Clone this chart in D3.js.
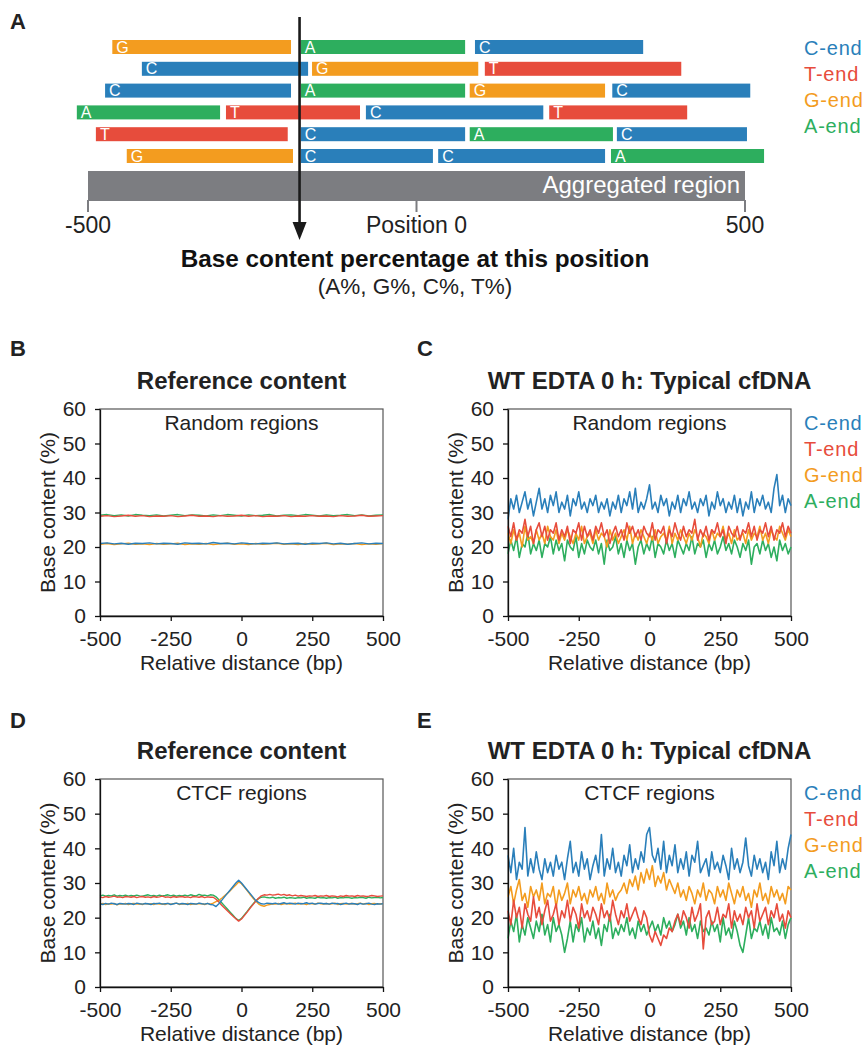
<!DOCTYPE html>
<html>
<head>
<meta charset="utf-8">
<script src="https://cdn.jsdelivr.net/npm/d3@7"></script>
<style>
body { margin: 0; background: #fff; }
text { font-family: Arial, "Liberation Sans", Helvetica, sans-serif; }
</style>
</head>
<body>
<div id="fig"></div>
<script>
//DATA
// panel A: read fragments, in bp relative to position 0
const FRAG_ROW   = [0,0,0, 1,1,1, 2,2,2,2, 3,3,3,3, 4,4,4,4, 5,5,5,5];
const FRAG_BASE  = ['G','A','C', 'C','G','T', 'C','A','G','C', 'A','T','C','T', 'T','C','A','C', 'G','C','C','A'];
const FRAG_START = [-463,-176,89, -418,-159,104, -474,-176,81,298, -517,-290,-77,202, -488,-176,81,305, -441,-176,33,296];
const FRAG_END   = [-191,74,345, -165,94,403, -191,74,287,508, -299,-86,193,412, -196,74,299,503, -188,25,287,529];
const AGG_TICKS  = [-500, 0, 500];
const AGG_LABELS = ['-500', 'Position 0', '500'];
const ARROW_POS  = -178;

const BASES  = ['C', 'T', 'G', 'A'];
const LEGEND = ['C-end', 'T-end', 'G-end', 'A-end'];
const X_TICKS = [-500, -250, 0, 250, 500];
const Y_TICKS = [0, 10, 20, 30, 40, 50, 60];

// positions of the sampled points
const POS25 = d3.range(-500, 501, 25);
const POS10 = d3.range(-500, 501, 10);

// panel B: reference content, random regions
const B_A = [29.2,29.4,29.1,29.3,29.0,29.4,29.2,29.1,29.3,29.0,29.2,29.4,29.1,29.3,29.2,29.0,29.3,29.1,29.4,29.2,29.0,29.3,29.1,29.2,29.4,29.0,29.2,29.3,29.1,29.4,29.2,29.0,29.3,29.1,29.2,29.4,29.1,29.3,29.0,29.2,29.3];
const B_T = [28.9,29.1,28.8,29.0,29.2,28.9,29.1,28.8,29.0,28.9,29.1,28.8,29.0,29.2,28.9,29.0,28.8,29.1,28.9,29.0,29.2,28.9,29.1,28.8,29.0,28.9,29.1,28.8,29.0,28.9,29.1,28.9,29.0,28.8,29.1,28.9,29.0,29.2,28.9,29.0,29.1];
const B_C = [21.0,21.2,20.9,21.1,20.8,21.1,21.0,21.2,20.9,21.1,21.0,20.8,21.2,21.0,21.1,20.9,21.3,21.0,21.1,20.9,21.2,21.0,20.9,21.1,21.0,21.2,20.9,21.0,21.1,20.8,21.1,21.0,21.2,20.9,21.1,20.8,21.0,21.2,20.9,21.1,21.0];
const B_G = [20.8,21.0,20.7,20.9,21.1,20.8,20.9,20.7,21.0,20.8,20.9,21.1,20.7,20.9,20.8,21.0,20.7,20.9,21.1,20.8,20.9,20.7,21.0,20.8,20.9,21.1,20.8,20.9,20.7,21.0,20.8,20.9,21.1,20.7,20.9,20.8,21.0,20.7,20.9,20.8,21.0];

// panel C: cfDNA, random regions
const C_C = [28,34,31,35,30,33,36,31,34,29, 33,37,31,34,30,35,32,36,30,33, 31,35,29,34,32,36,31,33,30,34, 32,35,30,33,31,34,29,33,31,35,
             30,34,32,36,31,37,30,33,31,34, 38,31,33,30,35,32,34,29,33,31, 35,30,34,32,36,31,33,30,34,32, 35,29,33,31,36,32,34,30,33,31,
             35,30,34,29,33,31,36,30,34,32, 35,31,33,30,37,41,32,35,30,34, 32];
const C_T = [26,23,27,22,25,24,28,23,26,21, 25,27,23,26,22,25,24,27,22,25, 23,26,21,25,24,27,22,26,23,25, 22,26,24,27,23,25,21,24,26,23,
             25,22,27,24,26,23,25,22,26,24, 23,27,22,25,24,26,21,25,23,27, 24,22,26,23,25,24,28,22,25,23, 26,22,25,24,27,23,25,21,26,24,
             23,26,22,25,24,27,23,26,22,25, 24,27,23,26,22,25,24,27,23,26, 24];
const C_G = [24,21,25,22,24,20,26,22,23,21, 25,22,24,21,26,23,22,25,21,24, 22,25,23,21,24,22,26,21,23,24, 21,25,22,24,23,20,25,22,24,21,
             23,25,22,26,21,24,22,25,23,21, 24,22,25,21,23,24,22,26,21,24, 22,25,23,21,24,22,25,23,20,24, 23,21,25,22,24,23,26,22,24,21,
             25,22,23,24,21,25,22,24,23,26, 22,24,21,25,23,22,26,24,22,25, 23];
const C_A = [18,22,19,23,17,21,20,24,18,21, 19,22,17,21,20,23,18,22,19,21, 16,22,20,19,23,17,21,18,22,20, 19,22,18,21,15,22,19,20,23,18,
             21,17,22,19,21,15,20,22,18,21, 19,23,17,21,20,18,22,19,21,17, 22,20,18,21,19,23,18,21,20,22, 17,21,19,22,18,20,23,19,21,18,
             22,20,17,21,19,22,15,20,21,18, 22,19,21,17,20,16,22,19,21,18, 20];

// panel D: reference content, CTCF regions
const D_A = [26.3,26.5,26.2,26.4,26.3,26.6,26.2,26.4,26.3,26.5, 26.2,26.4,26.3,26.5,26.3,26.2,26.4,26.6,26.3,26.4, 26.2,26.5,26.3,26.4,26.6,26.3,26.5,26.2,26.4,26.3, 26.5,26.3,26.6,26.4,26.3,26.7,26.4,26.5,26.3,26.6,
             26.5,26.0,25.2,24.3,23.4,22.5,21.6,20.7,19.8,19.2, 19.8,20.8,21.8,22.9,23.9,24.8,25.5,25.9,26.0,25.8, 25.7,25.9,25.6,25.8,25.7,25.9,25.6,25.8,25.7,25.6, 25.8,25.7,25.9,25.6,25.8,25.7,25.6,25.9,25.7,25.8,
             25.6,25.8,25.7,25.9,25.6,25.8,25.7,25.9,25.8,25.6, 25.8,25.7,25.9,25.8,25.6,25.9,25.7,25.8,25.9,25.7, 25.8];
const D_T = [26.0,25.8,26.1,25.9,26.0,26.2,25.9,26.0,25.8,26.1, 26.0,25.9,26.1,25.8,26.0,26.1,25.9,26.0,25.8,26.1, 25.9,26.0,26.2,25.9,26.0,25.8,26.1,25.9,26.0,26.1, 25.9,26.0,25.8,26.1,26.0,25.9,26.1,25.8,26.0,25.9,
             25.9,25.3,24.5,23.6,22.8,22.0,21.2,20.4,19.7,19.0, 19.6,20.6,21.6,22.7,23.7,24.7,25.6,26.3,26.6,26.5, 26.7,26.5,26.6,26.8,26.5,26.7,26.4,26.6,26.3,26.5, 26.2,26.4,26.3,26.1,26.3,26.2,26.4,26.1,26.3,26.2,
             26.4,26.1,26.3,26.2,26.0,26.3,26.1,26.4,26.2,26.3, 26.1,26.4,26.2,26.3,26.1,26.2,26.4,26.3,26.1,26.2, 26.3];
const D_C = [24.0,23.8,24.1,23.9,24.2,24.0,23.8,24.1,24.0,23.9, 24.1,24.0,23.8,24.2,24.0,23.9,24.1,24.0,23.8,24.1, 24.0,24.2,23.9,24.0,24.1,23.8,24.0,24.2,23.9,24.1, 24.0,23.8,24.1,24.0,23.9,24.2,24.0,23.9,24.1,23.8,
             23.7,23.2,24.0,25.0,26.0,27.0,28.0,29.0,30.0,30.8, 30.0,29.0,28.0,27.0,26.0,25.0,24.4,24.0,23.9,24.2, 24.1,24.0,24.2,23.9,24.1,24.3,24.0,24.2,24.1,23.9, 24.2,24.0,24.1,24.3,24.0,24.2,23.9,24.1,24.2,24.0,
             24.1,23.9,24.2,24.0,24.1,23.8,24.0,24.2,23.9,24.1, 24.0,23.8,24.1,23.9,24.0,24.2,23.9,23.8,24.0,23.9, 24.0];
const D_G = [23.9,24.1,23.8,24.0,23.9,24.1,23.7,24.0,23.9,24.1, 23.8,24.0,24.1,23.9,24.0,23.8,24.1,23.9,24.0,23.8, 24.1,23.9,24.0,23.8,24.1,23.9,24.0,24.2,23.8,24.0, 23.9,24.1,23.8,24.0,23.9,24.1,24.0,23.8,24.1,23.9,
             24.2,24.6,25.0,25.6,26.3,27.0,27.8,28.6,29.4,30.3, 29.8,28.8,27.8,26.7,25.7,24.8,24.0,23.5,23.3,23.6, 23.8,24.0,23.9,24.1,23.8,24.0,24.1,23.9,24.0,24.2, 23.9,24.1,24.0,23.8,24.1,24.0,23.9,24.2,24.0,23.9,
             24.1,23.9,24.0,24.2,23.8,24.0,24.1,23.9,24.0,24.1, 23.9,24.0,24.2,23.9,24.1,23.8,24.0,24.1,23.9,24.0, 24.0];

// panel E: cfDNA, CTCF regions
const E_C = [38,33,40,31,36,34,46,32,37,33, 39,34,31,37,33,36,32,38,34,36, 31,37,42,33,36,32,39,34,37,31, 35,38,33,44,32,37,34,40,33,36,
             32,38,35,41,33,37,34,39,36,44, 46,38,36,40,34,42,33,38,35,41, 33,37,34,39,32,38,36,42,33,35, 37,32,39,34,36,33,38,35,31,40,
             34,37,33,36,43,35,32,38,34,37, 33,36,31,39,35,42,33,37,34,40, 44];
const E_G = [26,29,24,28,31,25,27,23,29,26, 28,25,30,24,27,26,29,23,28,25, 27,30,24,28,26,29,25,27,24,28, 26,29,25,27,24,30,26,28,25,27,
             28,30,27,31,29,32,28,33,30,34, 31,35,29,32,30,33,28,31,29,27, 30,26,28,25,29,27,24,28,26,30, 25,28,27,24,29,26,28,25,30,27,
             24,28,26,29,25,27,23,28,26,30, 25,27,24,29,26,28,25,27,24,29, 28];
const E_T = [22,18,25,20,23,17,24,21,19,26, 20,23,18,22,25,19,21,24,18,22, 20,25,19,23,21,17,24,20,22,19, 23,21,18,24,20,22,19,25,21,18,
             22,20,24,19,21,23,20,18,22,20, 15,13,16,14,12,15,14,17,16,19, 21,18,22,20,17,23,19,21,24,11, 20,22,18,19,23,18,21,20,24,17,
             22,19,21,18,23,20,22,17,24,19, 21,23,18,22,20,24,19,21,17,22, 20];
const E_A = [14,19,16,21,13,18,15,20,17,14, 19,16,21,15,18,13,20,16,18,15, 10,14,19,13,18,16,20,13,17,15, 19,14,17,12,18,16,21,14,17,15,
             18,16,20,15,17,14,19,16,18,15, 17,19,16,18,15,20,17,19,16,18, 21,17,19,15,20,16,18,14,19,16, 17,15,19,16,18,13,20,15,17,14,
             19,16,12,10,15,20,14,17,16,19, 15,18,14,20,16,17,15,19,14,18, 20];

//SETUP
const WIDTH = 867, HEIGHT = 1047;
const COLORS = { C: '#2a7fba', T: '#e74c3c', G: '#f39c1f', A: '#2dae5e' };
const DRAW_ORDER = ['A', 'G', 'T', 'C'];

const svg = d3.select('#fig').append('svg')
  .attr('width', WIDTH)
  .attr('height', HEIGHT);

function panelLetter(txt, x, y) {
  svg.append('text').text(txt)
    .attr('x', x).attr('y', y)
    .attr('font-size', 22).attr('font-weight', 'bold').attr('fill', '#222');
}

function drawLegend(x, y0) {
  svg.append('g').selectAll('text').data(LEGEND)
    .join('text')
    .text(d => d)
    .attr('x', x)
    .attr('y', (d, i) => y0 + i * 26)
    .attr('font-size', 20)
    .attr('letter-spacing', 0.8)
    .attr('fill', (d, i) => COLORS[BASES[i]]);
}

//PANEL A
function drawPanelA() {
  const xA = d3.scaleLinear().domain([-500, 500]).range([88, 745]);
  const ROW = { TOP: 40, STEP: 21.8, H: 14 };
  const frags = FRAG_ROW.map((r, i) => ({ row: r, base: FRAG_BASE[i], s: FRAG_START[i], e: FRAG_END[i] }));
  const g = svg.append('g');

  const fg = g.selectAll('.frag').data(frags).join('g').attr('class', 'frag')
    .attr('transform', d => `translate(${xA(d.s)}, ${ROW.TOP + d.row * ROW.STEP})`);
  fg.append('rect')
    .attr('width', d => xA(d.e) - xA(d.s))
    .attr('height', ROW.H)
    .attr('fill', d => COLORS[d.base]);
  fg.append('text').text(d => d.base)
    .attr('x', 4).attr('y', ROW.H - 1.5)
    .attr('font-size', 16).attr('fill', '#fff');

  // aggregated region bar
  g.append('rect')
    .attr('x', xA(-500)).attr('y', 171)
    .attr('width', xA(500) - xA(-500)).attr('height', 30)
    .attr('fill', '#7c7d81');
  g.append('text').text('Aggregated region')
    .attr('x', xA(500) - 5).attr('y', 193)
    .attr('text-anchor', 'end').attr('font-size', 24).attr('fill', '#fff');
  g.selectAll('.aggtick').data(AGG_TICKS).join('line').attr('class', 'aggtick')
    .attr('x1', d => xA(d)).attr('x2', d => xA(d))
    .attr('y1', 200).attr('y2', 212)
    .attr('stroke', '#7c7d81').attr('stroke-width', 2);
  g.selectAll('.agglab').data(AGG_TICKS).join('text').attr('class', 'agglab')
    .text((d, i) => AGG_LABELS[i])
    .attr('x', d => xA(d)).attr('y', 233)
    .attr('text-anchor', 'middle').attr('font-size', 23).attr('fill', '#222');

  // arrow
  const ax = xA(ARROW_POS);
  g.append('line')
    .attr('x1', ax).attr('x2', ax).attr('y1', 17).attr('y2', 228)
    .attr('stroke', '#1a1a1a').attr('stroke-width', 2.6);
  g.append('polygon')
    .attr('points', [[ax - 7, 222], [ax + 7, 222], [ax, 240]].join(' '))
    .attr('fill', '#1a1a1a');

  g.append('text').text('Base content percentage at this position')
    .attr('x', 415).attr('y', 267)
    .attr('text-anchor', 'middle').attr('font-size', 24.3).attr('font-weight', 'bold').attr('fill', '#111');
  g.append('text').text('(A%, G%, C%, T%)')
    .attr('x', 415).attr('y', 294)
    .attr('text-anchor', 'middle').attr('font-size', 22.5).attr('fill', '#222');
}

//LINE PANELS
function drawPanel(p) {
  const x = d3.scaleLinear().domain([-500, 500]).range([p.x0, p.x1]);
  const y = d3.scaleLinear().domain([0, 60]).range([p.y1, p.y0]);
  const g = svg.append('g');

  g.append('rect')
    .attr('x', p.x0).attr('y', p.y0)
    .attr('width', p.x1 - p.x0).attr('height', p.y1 - p.y0)
    .attr('fill', 'none').attr('stroke', '#555').attr('stroke-width', 1.2);

  const line = d3.line().x(d => x(d[0])).y(d => y(d[1]));
  DRAW_ORDER.forEach(b => {
    g.append('path')
      .datum(p.pos.map((v, i) => [v, p.series[b][i]]))
      .attr('d', line)
      .attr('fill', 'none')
      .attr('stroke', COLORS[b])
      .attr('stroke-width', p.sw)
      .attr('stroke-linejoin', 'round');
  });

  const gx = g.append('g').attr('transform', `translate(0, ${p.y1})`)
    .call(d3.axisBottom(x).tickValues(X_TICKS).tickSize(5).tickSizeOuter(0).tickPadding(10).tickFormat(d => String(d)));
  const gy = g.append('g').attr('transform', `translate(${p.x0}, 0)`)
    .call(d3.axisLeft(y).tickValues(Y_TICKS).tickSize(5).tickSizeOuter(0).tickPadding(9).tickFormat(d => String(d)));
  [gx, gy].forEach(a => {
    a.attr('font-family', null).attr('font-size', 21);
    a.selectAll('text').attr('fill', '#222');
    a.selectAll('line').attr('stroke', '#111').attr('stroke-width', 1.3);
    a.select('.domain').attr('stroke', '#111').attr('stroke-width', 1.3);
  });

  const cx = (p.x0 + p.x1) / 2;
  g.append('text').text(p.title)
    .attr('x', cx).attr('y', p.y0 - 20)
    .attr('text-anchor', 'middle').attr('font-size', 24).attr('font-weight', 'bold').attr('fill', '#222');
  g.append('text').text(p.sub)
    .attr('x', cx).attr('y', p.y0 + 21)
    .attr('text-anchor', 'middle').attr('font-size', 21).attr('fill', '#222');
  g.append('text').text('Relative distance (bp)')
    .attr('x', cx).attr('y', p.y1 + 54)
    .attr('text-anchor', 'middle').attr('font-size', 21).attr('fill', '#222');
  g.append('text').text('Base content (%)')
    .attr('transform', `translate(${p.x0 - 45}, ${(p.y0 + p.y1) / 2}) rotate(-90)`)
    .attr('text-anchor', 'middle').attr('font-size', 21).attr('fill', '#222');
}

drawPanelA();
drawLegend(804, 55);
panelLetter('A', 10, 29);

drawPanel({ x0: 100, x1: 383, y0: 409, y1: 616, title: 'Reference content', sub: 'Random regions',
            pos: POS25, series: { A: B_A, T: B_T, C: B_C, G: B_G }, sw: 1.4 });
drawPanel({ x0: 508, x1: 791, y0: 409, y1: 616, title: 'WT EDTA 0 h: Typical cfDNA', sub: 'Random regions',
            pos: POS10, series: { A: C_A, T: C_T, C: C_C, G: C_G }, sw: 1.6 });
drawPanel({ x0: 100, x1: 383, y0: 779, y1: 987, title: 'Reference content', sub: 'CTCF regions',
            pos: POS10, series: { A: D_A, T: D_T, C: D_C, G: D_G }, sw: 1.4 });
drawPanel({ x0: 508, x1: 791, y0: 779, y1: 987, title: 'WT EDTA 0 h: Typical cfDNA', sub: 'CTCF regions',
            pos: POS10, series: { A: E_A, T: E_T, C: E_C, G: E_G }, sw: 1.6 });

drawLegend(804, 430);
drawLegend(804, 800);
panelLetter('B', 10, 356);
panelLetter('C', 417, 356);
panelLetter('D', 10, 728);
panelLetter('E', 417, 728);
</script>
</body>
</html>
